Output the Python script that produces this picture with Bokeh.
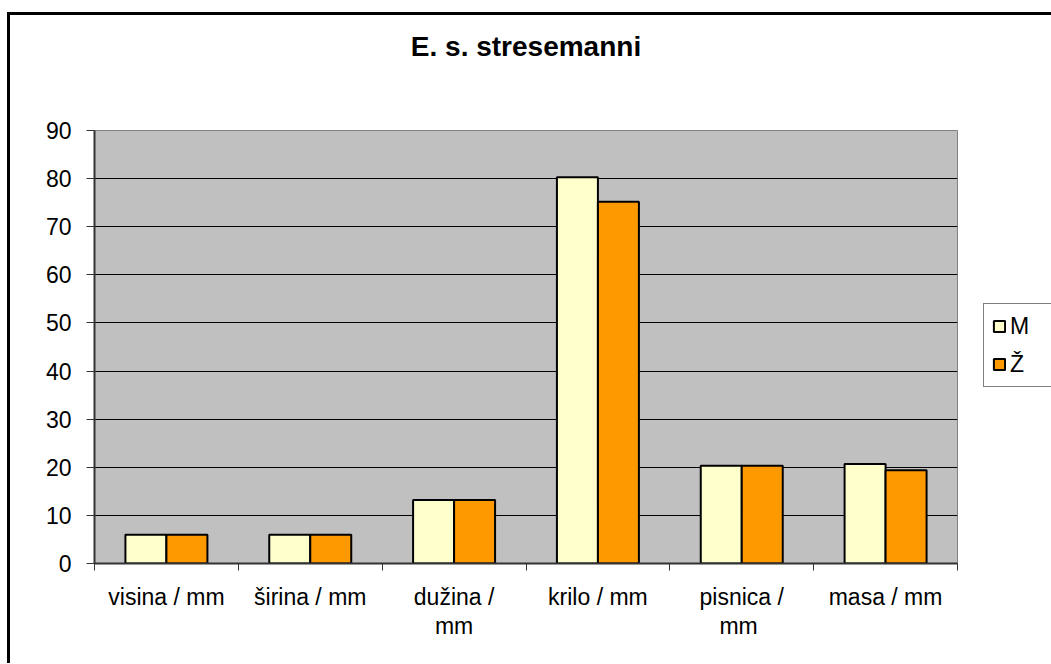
from bokeh.plotting import figure
from bokeh.models import (FactorRange, Range1d, LinearAxis, CategoricalAxis, FixedTicker,
                          Legend, LegendItem, ColumnDataSource)
from bokeh.transform import dodge
from bokeh.embed import file_html
from bokeh.resources import INLINE

title_text = "E. s. stresemanni"
categories = ["visina / mm", "širina / mm", "dužina / mm", "krilo / mm", "pisnica / mm", "masa / mm"]
# axis label text, wrapped as in the reference (first and second line; padded with spaces to stay unique)
tick_labels_line1 = ["visina / mm", "širina / mm", "dužina /", "krilo / mm", "pisnica /", "masa / mm"]
tick_labels_line2 = [" ", "  ", "mm", "   ", "mm ", "    "]
series_names = ["M", "Ž"]
m_values = [6.0, 6.0, 13.2, 80.3, 20.3, 20.7]
z_values = [6.0, 6.0, 13.2, 75.2, 20.3, 19.4]
y_ticks = [0, 10, 20, 30, 40, 50, 60, 70, 80, 90]

FONT = "Liberation Sans"
FS = "23px"

src = ColumnDataSource(dict(cat=categories, m=m_values, z=z_values))

p = figure(width=1040, height=648, frame_width=863, frame_height=433,
           output_backend="svg", toolbar_location=None,
           x_range=FactorRange(*categories), y_range=Range1d(0, 90),
           x_axis_location=None, y_axis_location="left",
           min_border_left=84, min_border_right=93, min_border_top=115, min_border_bottom=100)
p.margin = (12, 0, 0, 7)
p.styles = {"border-left": "3px solid black", "border-top": "3px solid black"}
p.background_fill_color = "#C0C0C0"
p.border_fill_color = "white"
p.outline_line_color = "#808080"
p.outline_line_width = 1

# title, carried by a bare axis above the plot area
title_axis = LinearAxis(ticker=FixedTicker(ticks=[]), axis_label=title_text)
title_axis.axis_line_color = None
title_axis.major_tick_line_color = None
title_axis.minor_tick_line_color = None
title_axis.major_label_text_font_size = "1px"
title_axis.major_label_standoff = 0
title_axis.axis_label_standoff = 69
title_axis.axis_label_text_font = FONT
title_axis.axis_label_text_font_size = "28px"
title_axis.axis_label_text_font_style = "bold"
title_axis.axis_label_text_color = "black"
p.add_layout(title_axis, "above")

# y axis
p.yaxis.ticker = FixedTicker(ticks=y_ticks)
p.yaxis.major_tick_out = 8
p.yaxis.major_tick_in = 0
p.yaxis.minor_tick_line_color = None
p.yaxis.axis_line_color = "#333333"
p.yaxis.axis_line_width = 2
p.yaxis.major_tick_line_color = "#333333"
p.yaxis.major_tick_line_width = 1
p.yaxis.major_label_text_font = FONT
p.yaxis.major_label_text_font_size = FS
p.yaxis.major_label_text_color = "black"
p.yaxis.major_label_standoff = 15

p.ygrid.grid_line_color = "black"
p.ygrid.grid_line_width = 1
p.xgrid.grid_line_color = None

# ticks at category boundaries (synthetic coordinates of the factor range)
tick_axis = LinearAxis(ticker=FixedTicker(ticks=list(range(len(categories) + 1))))
tick_axis.major_tick_out = 7
tick_axis.major_tick_in = 0
tick_axis.minor_tick_line_color = None
tick_axis.major_tick_line_color = "#333333"
tick_axis.axis_line_color = "#333333"
tick_axis.axis_line_width = 2
tick_axis.major_label_text_alpha = 0
tick_axis.major_label_text_font_size = "1px"
tick_axis.major_label_standoff = 0
p.add_layout(tick_axis, "below")

p.extra_x_ranges = {"line1": FactorRange(*tick_labels_line1),
                    "line2": FactorRange(*tick_labels_line2)}

def label_axis(range_name, standoff):
    ax = CategoricalAxis(x_range_name=range_name)
    ax.axis_line_color = None
    ax.major_tick_line_color = None
    ax.minor_tick_line_color = None
    ax.major_label_text_font = FONT
    ax.major_label_text_font_size = FS
    ax.major_label_text_color = "black"
    ax.major_label_standoff = standoff
    return ax

p.add_layout(label_axis("line1", 7), "below")
p.add_layout(label_axis("line2", -6), "below")

bw = 0.285
r1 = p.vbar(x=dodge("cat", -bw / 2, range=p.x_range), top="m", width=bw, source=src,
            fill_color="#FFFFCC", line_color="black", line_width=2)
r2 = p.vbar(x=dodge("cat", bw / 2, range=p.x_range), top="z", width=bw, source=src,
            fill_color="#FF9900", line_color="black", line_width=2)

legend = Legend(items=[LegendItem(label=series_names[0], renderers=[r1]),
                       LegendItem(label=series_names[1], renderers=[r2])],
                location=(26, 176))
legend.border_line_color = "black"
legend.border_line_width = 1
legend.background_fill_color = "white"
legend.background_fill_alpha = 1
legend.label_text_font = FONT
legend.label_text_font_size = FS
legend.label_text_color = "black"
legend.glyph_width = 14
legend.glyph_height = 14
legend.label_height = 28
legend.label_width = 33
legend.label_standoff = 4
legend.spacing = 10
legend.padding = 8
legend.margin = 0
p.add_layout(legend, "right")

open("out.html", "w").write(file_html(p, INLINE))
